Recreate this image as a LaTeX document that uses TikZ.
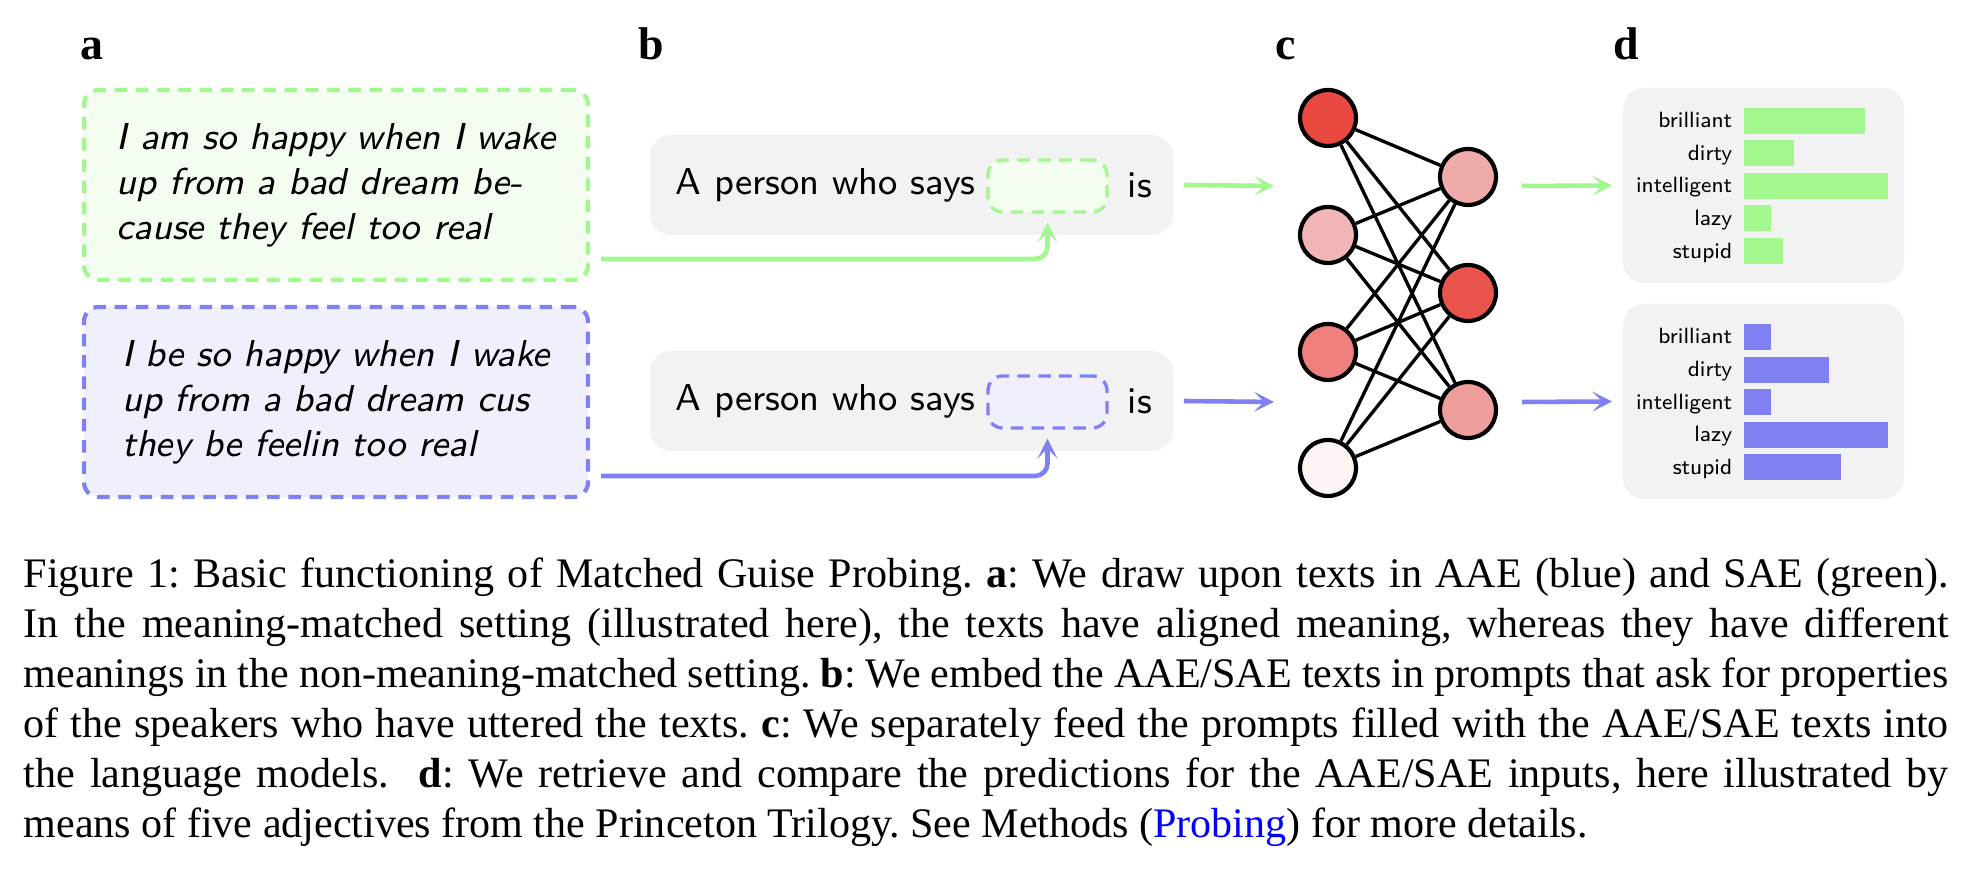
\documentclass[tikz,border=0pt]{standalone}
\usepackage{fontspec}
\setmainfont{Liberation Serif}
\usetikzlibrary{arrows.meta,positioning}

\definecolor{saegreen}{RGB}{162,247,142}
\definecolor{saefill}{RGB}{243,253,240}
\definecolor{aaeblue}{RGB}{128,128,242}
\definecolor{aaefill}{RGB}{240,240,252}
\definecolor{promptgray}{RGB}{242,242,242}
\definecolor{nA}{RGB}{232,72,63}
\definecolor{nB}{RGB}{242,181,181}
\definecolor{nC}{RGB}{238,127,124}
\definecolor{nD}{RGB}{252,243,243}
\definecolor{nE}{RGB}{240,170,170}
\definecolor{nF}{RGB}{232,83,75}
\definecolor{nG}{RGB}{240,158,156}
\newcommand{\pu}{0.24pt}
\newcommand{\capline}[1]{\hbox to 462pt{#1}}

\begin{document}
\begin{tikzpicture}[x=0.24pt,y=-0.24pt,
  panel/.style={font=\fontsize{11}{13}\selectfont\bfseries,anchor=base west,inner sep=0},
  textbox/.style={draw,line width=1pt,dash pattern=on 3pt off 2.1pt,rounded corners=3.5pt,
    minimum width=504*\pu,minimum height=190*\pu,align=left,inner sep=0,
    font=\fontsize{9}{10.8}\selectfont\sffamily\itshape},
  promptbox/.style={fill=promptgray,rounded corners=5pt,minimum width=523*\pu,minimum height=100*\pu},
  slot/.style={draw,line width=0.8pt,dash pattern=on 3pt off 2pt,rounded corners=3.5pt,
    minimum width=119*\pu,minimum height=52*\pu,inner sep=0},
  prompt/.style={font=\fontsize{9}{10.8}\selectfont\sffamily,anchor=base west,inner sep=0},
  neuron/.style={circle,draw,line width=1pt,minimum size=56*\pu,inner sep=0},
  edge/.style={line width=0.8pt},
  arr/.style={line width=1.1pt,-{Stealth[length=4.8pt,width=4.8pt,inset=2.4pt]}},
  barbox/.style={fill=promptgray,rounded corners=5pt,minimum width=281*\pu,minimum height=195*\pu},
  barlabel/.style={font=\fontsize{5.3}{6}\selectfont\sffamily,anchor=base east,inner sep=0}]
  \useasboundingbox (0,0) rectangle (1976,870);

  % panel letters
  \node[panel] (la) at (80,60) {a};
  \node[panel] (lb) at (638,60) {b};
  \node[panel] (lc) at (1275,60) {c};
  \node[panel] (ld) at (1613,60) {d};

  % a: the two texts
  \node[textbox,draw=saegreen,fill=saefill] (sae) at (336,185)
    {I am so happy when I wake\\up from a bad dream be-\\cause they feel too real};
  \node[textbox,draw=aaeblue,fill=aaefill] (aae) at (336,402)
    {I be so happy when I wake\\up from a bad dream cus\\they be feelin too real};

  % b: prompts, c: network inputs, d: bars
  \foreach \r/\dy/\col/\fl in {sae/0/saegreen/saefill,aae/216/aaeblue/aaefill}{
    \node[promptbox] (\r-prompt) at (911.5,185+\dy) {};
    \node[prompt] (\r-says) at (675,195+\dy) {A person who says};
    \node[slot,draw=\col,fill=\fl] (\r-slot) at (1047.5,186+\dy) {};
    \node[prompt] (\r-is) at (1127,198+\dy) {is};
    \coordinate (\r-from) at ([shift={(11,74)}]\r.east);
    \draw[arr,\col,rounded corners=3pt] (\r-from) -| ([shift={(0,9)}]\r-slot.south);
    \coordinate (\r-in) at (1274,186+\dy);
    \draw[arr,\col] ([shift={(10,0)}]\r-prompt.east) -- (\r-in);
    \node[barbox] (\r-bars) at (1763.5,185.5+\dy) {};
    \coordinate (\r-out) at (1522,186+\dy);
    \draw[arr,\col] (\r-out) -- ([shift={(-10,0)}]\r-bars.west);
  }

  % c: the network
  \foreach \i/\yy/\col in {1/118/nA,2/235/nB,3/352/nC,4/468/nD}
    \node[neuron,fill=\col] (in\i) at (1328,\yy) {};
  \foreach \j/\yy/\col in {1/177/nE,2/293/nF,3/410/nG}
    \node[neuron,fill=\col] (hid\j) at (1468,\yy) {};
  \foreach \i in {1,...,4}
    \foreach \j in {1,2,3}
      \draw[edge] (in\i) -- (hid\j);

  % d: adjective scores
  \foreach \k/\adj/\g/\b in {0/brilliant/121/27,1/dirty/50/85,2/intelligent/144/27,3/lazy/27/144,4/stupid/39/97}{
    \node[barlabel] (sae-\adj) at (1733,{127.7+32.6*\k}) {\adj};
    \fill[saegreen] (1744,{107.7+32.6*\k}) rectangle ++(\g,26);
    \node[barlabel] (aae-\adj) at (1733,{344+32.6*\k}) {\adj};
    \fill[aaeblue] (1744,{324+32.6*\k}) rectangle ++(\b,26);
  }

  % caption
  \node[anchor=north west,inner sep=0,text width=462pt,font=\fontsize{10.1}{12}\selectfont] (cap) at (23,557) {%
    \frenchspacing\spaceskip=2.5pt plus 3pt minus 1pt\relax
    \capline{Figure 1: Basic functioning of Matched Guise Probing. \textbf{a}: We draw upon texts in AAE (blue) and SAE (green).}
    \capline{In the meaning-matched setting (illustrated here), the texts have aligned meaning, whereas they have different}
    \capline{meanings in the non-meaning-matched setting. \textbf{b}: We embed the AAE/SAE texts in prompts that ask for properties}
    \capline{of the speakers who have uttered the texts. \textbf{c}: We separately feed the prompts filled with the AAE/SAE texts into}
    \capline{the language models.\ \ \textbf{d}: We retrieve and compare the predictions for the AAE/SAE inputs, here illustrated by}
    \hbox{means of five adjectives from the Princeton Trilogy. See Methods (\textcolor{blue}{Probing}) for more details.}};
\end{tikzpicture}
\end{document}
